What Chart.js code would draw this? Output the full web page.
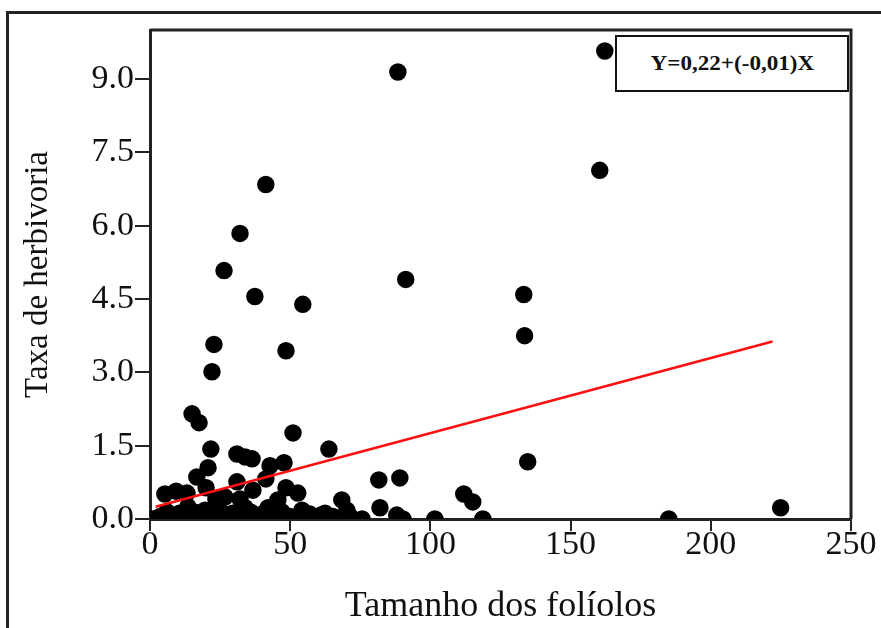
<!DOCTYPE html>
<html>
<head>
<meta charset="utf-8">
<script src="https://cdn.jsdelivr.net/npm/chart.js@4.4.1/dist/chart.umd.min.js"></script>
<style>
  body { margin: 0; background: #fff; }
  .wrap { position: relative; width: 881px; height: 628px; overflow: hidden; }
  .frame { position: absolute; left: 6px; top: 11px; width: 900px; height: 640px; border-left: 3px solid #222; border-top: 3px solid #222; pointer-events: none; }
  .equation { position: absolute; left: 615px; top: 35px; width: 230px; height: 53px; border: 2px solid #111; background: #fff;
              display: flex; align-items: center; justify-content: center; }
  .equation span { font-family: "Liberation Serif", serif; font-weight: bold; font-size: 21px; color: #111; display: inline-block; transform: scaleX(1.1); }
</style>
</head>
<body>
<div class="wrap">
  <canvas id="chart" width="881" height="628"></canvas>
  <div class="frame"></div>
  <div class="equation"><span>Y=0,22+(-0,01)X</span></div>
</div>
<script>
// leaf size (x) vs herbivory rate (y)
const leafSize = [
  162.2, 88.4, 160.4, 41.3, 32.1, 26.4, 37.4, 91.2, 54.5, 133.3, 22.8, 133.6, 48.5, 22.1, 15.0, 17.5, 51.0, 63.8, 21.7, 134.7, 224.9,
  31.0, 33.9, 36.4, 42.8, 47.8, 20.7, 16.7, 31.0, 41.3, 48.5, 52.7, 5.3, 9.3, 13.2, 20.0, 23.5, 26.7, 32.1, 36.7, 45.6, 42.1, 54.2,
  68.4, 62.4, 13.5, 33.9, 19.6, 81.6, 89.1, 82.0, 88.0, 111.9, 115.1, 70.2,
  1.0, 3.6, 7.8, 12.5, 17.1, 22.1, 27.8, 32.5, 38.5, 44.5, 49.9, 54.5, 58.1, 65.2, 71.3, 75.6, 90.2, 101.6, 118.7, 185.0,
  6.0, 10.5, 16.0, 25.0, 29.5, 36.0, 40.5, 47.0, 57.0, 61.0
];
const herbivory = [
  9.57, 9.14, 7.13, 6.84, 5.84, 5.08, 4.55, 4.90, 4.39, 4.59, 3.57, 3.75, 3.44, 3.01, 2.15, 1.97, 1.76, 1.43, 1.43, 1.17, 0.23,
  1.33, 1.27, 1.23, 1.09, 1.15, 1.05, 0.86, 0.76, 0.82, 0.64, 0.53, 0.51, 0.57, 0.53, 0.64, 0.41, 0.45, 0.41, 0.59, 0.39, 0.23, 0.18,
  0.39, 0.12, 0.25, 0.23, 0.18, 0.80, 0.84, 0.23, 0.08, 0.51, 0.35, 0.18,
  0.0, 0.05, 0.0, 0.08, 0.05, 0.10, 0.08, 0.0, 0.05, 0.0, 0.05, 0.14, 0.05, 0.05, 0.05, 0.0, 0.0, 0.0, 0.0, 0.0,
  0.15, 0.12, 0.14, 0.16, 0.12, 0.14, 0.12, 0.15, 0.10, 0.08
];
// fitted line as drawn
const regX = [2, 222];
const regY = [0.25, 3.63];

const xTicks = [0, 50, 100, 150, 200, 250];
const yTicks = [0, 1.5, 3.0, 4.5, 6.0, 7.5, 9.0];

const ink = '#222';

// box round the plot area (top and right edges)
const boxPlugin = {
  id: 'box',
  afterDraw(chart) {
    const { ctx, chartArea: a } = chart;
    ctx.save();
    ctx.strokeStyle = ink;
    ctx.lineWidth = 3;
    ctx.beginPath();
    ctx.moveTo(a.left, a.top);
    ctx.lineTo(a.right, a.top);
    ctx.lineTo(a.right, a.bottom);
    ctx.stroke();
    ctx.restore();
  }
};

new Chart(document.getElementById('chart'), {
  type: 'scatter',
  data: {
    datasets: [
      {
        data: regX.map((x, i) => ({ x: x, y: regY[i] })),
        showLine: true,
        borderColor: '#ff1010',
        borderWidth: 2.5,
        pointRadius: 0,
        order: 0
      },
      {
        data: leafSize.map((x, i) => ({ x: x, y: herbivory[i] })),
        backgroundColor: '#000',
        borderColor: '#000',
        borderWidth: 1.5,
        pointRadius: 8,
        clip: 0,
        order: 1
      }
    ]
  },
  options: {
    responsive: false,
    animation: false,
    layout: { padding: { top: 30, right: 30, left: 0, bottom: 0 } },
    plugins: { legend: { display: false }, tooltip: { enabled: false } },
    scales: {
      x: {
        type: 'linear',
        min: 0,
        max: 250,
        afterBuildTicks: s => { s.ticks = xTicks.map(v => ({ value: v })); },
        afterFit: s => { s.height = 109; },
        ticks: { font: { family: 'Liberation Serif', size: 34 }, color: '#111', padding: -6, maxRotation: 0 },
        grid: { drawOnChartArea: false, tickLength: 12, color: ink, lineWidth: 2 },
        border: { color: ink, width: 3 },
        title: { display: true, text: 'Tamanho dos folíolos', font: { family: 'Liberation Serif', size: 36 }, color: '#111', padding: { top: 8, bottom: 0 } }
      },
      y: {
        min: 0,
        max: 10,
        afterBuildTicks: s => { s.ticks = yTicks.map(v => ({ value: v })); },
        afterFit: s => { s.width = 150; },
        ticks: { font: { family: 'Liberation Serif', size: 34 }, color: '#111', padding: 1, callback: v => v.toFixed(1) },
        grid: { drawOnChartArea: false, tickLength: 15, color: ink, lineWidth: 2 },
        border: { color: ink, width: 3 },
        title: { display: true, text: 'Taxa de herbivoria', font: { family: 'Liberation Serif', size: 33 }, color: '#111', padding: { top: 19, bottom: 0 } }
      }
    }
  },
  plugins: [boxPlugin]
});
</script>
</body>
</html>
